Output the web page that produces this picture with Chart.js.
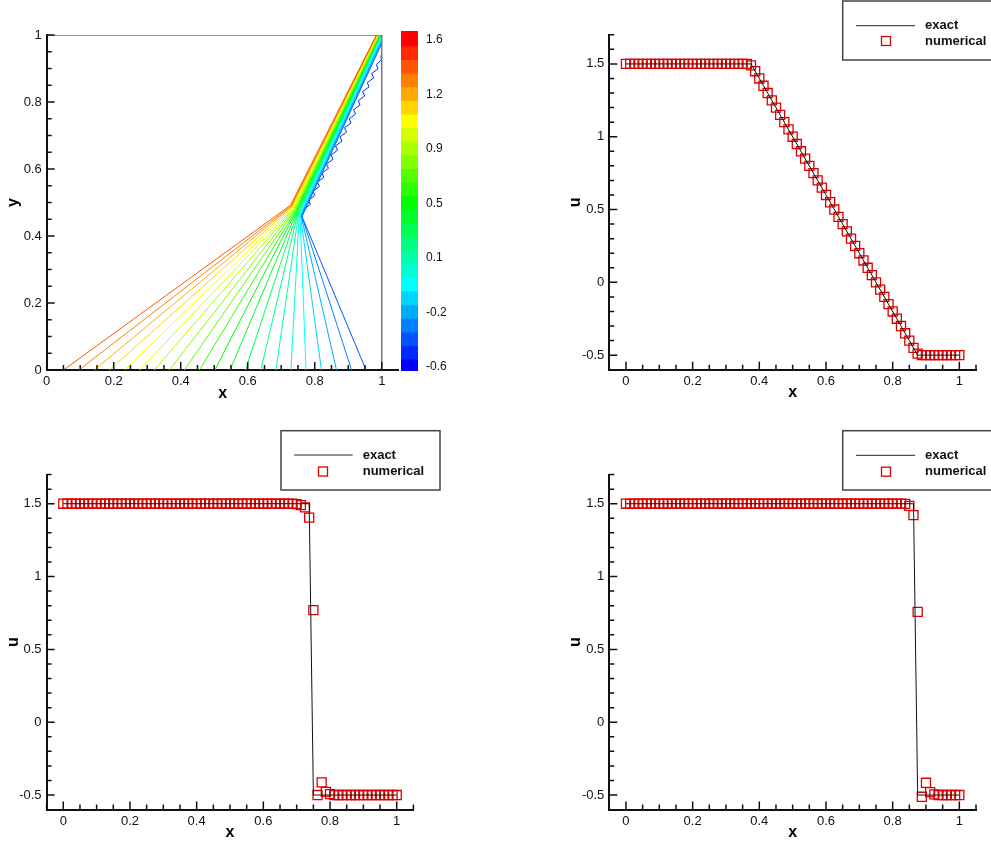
<!DOCTYPE html>
<html>
<head>
<meta charset="utf-8">
<script src="https://cdn.jsdelivr.net/npm/chart.js@4.4.0/dist/chart.umd.min.js"></script>
<style>
  html, body { margin: 0; padding: 0; background: #fff; overflow: hidden; width: 991px; height: 843px; }
  canvas { position: absolute; }
</style>
</head>
<body>
<canvas id="contour" width="400" height="410" style="left:0px;top:0px"></canvas>
<canvas id="colorbar" width="60" height="410" style="left:395px;top:0px"></canvas>
<canvas id="u1" width="431" height="410" style="left:560px;top:0px"></canvas>
<canvas id="u2" width="445" height="430" style="left:0px;top:420px"></canvas>
<canvas id="u3" width="431" height="430" style="left:560px;top:420px"></canvas>
<script>
// ---- データ ----
// 格子点（81点）
const gridX = [
  0, 0.0125, 0.025, 0.0375, 0.05, 0.0625, 0.075, 0.0875, 0.1, 0.1125,
  0.125, 0.1375, 0.15, 0.1625, 0.175, 0.1875, 0.2, 0.2125, 0.225, 0.2375,
  0.25, 0.2625, 0.275, 0.2875, 0.3, 0.3125, 0.325, 0.3375, 0.35, 0.3625,
  0.375, 0.3875, 0.4, 0.4125, 0.425, 0.4375, 0.45, 0.4625, 0.475, 0.4875,
  0.5, 0.5125, 0.525, 0.5375, 0.55, 0.5625, 0.575, 0.5875, 0.6, 0.6125,
  0.625, 0.6375, 0.65, 0.6625, 0.675, 0.6875, 0.7, 0.7125, 0.725, 0.7375,
  0.75, 0.7625, 0.775, 0.7875, 0.8, 0.8125, 0.825, 0.8375, 0.85, 0.8625,
  0.875, 0.8875, 0.9, 0.9125, 0.925, 0.9375, 0.95, 0.9625, 0.975, 0.9875,
  1
];

// 右上: 膨張波の途中
const exactX1 = [0, 0.375, 0.875, 1];
const exactU1 = [1.5, 1.5, -0.5, -0.5];
const numU1 = [
  1.5, 1.5, 1.5, 1.5, 1.5, 1.5, 1.5, 1.5, 1.5, 1.5,
  1.5, 1.5, 1.5, 1.5, 1.5, 1.5, 1.5, 1.5, 1.5, 1.5,
  1.5, 1.5, 1.5, 1.5, 1.5, 1.5, 1.5, 1.5, 1.5, 1.5,
  1.49, 1.45, 1.4, 1.35, 1.3, 1.25, 1.2, 1.15, 1.1, 1.05,
  1, 0.95, 0.9, 0.85, 0.8, 0.75, 0.7, 0.65, 0.6, 0.55,
  0.5, 0.45, 0.4, 0.35, 0.3, 0.25, 0.2, 0.15, 0.1, 0.05,
  0, -0.05, -0.1, -0.15, -0.2, -0.25, -0.3, -0.35, -0.4, -0.45,
  -0.49, -0.5, -0.5, -0.5, -0.5, -0.5, -0.5, -0.5, -0.5, -0.5,
  -0.5
];

// 左下: 衝撃波形成直後
const exactX2 = [0, 0.7375, 0.75, 1];
const exactU2 = [1.5, 1.5, -0.5, -0.5];
const numU2 = [
  1.5, 1.5, 1.5, 1.5, 1.5, 1.5, 1.5, 1.5, 1.5, 1.5,
  1.5, 1.5, 1.5, 1.5, 1.5, 1.5, 1.5, 1.5, 1.5, 1.5,
  1.5, 1.5, 1.5, 1.5, 1.5, 1.5, 1.5, 1.5, 1.5, 1.5,
  1.5, 1.5, 1.5, 1.5, 1.5, 1.5, 1.5, 1.5, 1.5, 1.5,
  1.5, 1.5, 1.5, 1.5, 1.5, 1.5, 1.5, 1.5, 1.5, 1.5,
  1.5, 1.5, 1.5, 1.5, 1.5, 1.5, 1.497, 1.49, 1.475, 1.405,
  0.77, -0.5, -0.413, -0.478, -0.494, -0.5, -0.5, -0.5, -0.5, -0.5,
  -0.5, -0.5, -0.5, -0.5, -0.5, -0.5, -0.5, -0.5, -0.5, -0.5,
  -0.5
];

// 右下: 衝撃波の移動後
const exactX3 = [0, 0.8625, 0.875, 1];
const exactU3 = [1.5, 1.5, -0.5, -0.5];
const numU3 = [
  1.5, 1.5, 1.5, 1.5, 1.5, 1.5, 1.5, 1.5, 1.5, 1.5,
  1.5, 1.5, 1.5, 1.5, 1.5, 1.5, 1.5, 1.5, 1.5, 1.5,
  1.5, 1.5, 1.5, 1.5, 1.5, 1.5, 1.5, 1.5, 1.5, 1.5,
  1.5, 1.5, 1.5, 1.5, 1.5, 1.5, 1.5, 1.5, 1.5, 1.5,
  1.5, 1.5, 1.5, 1.5, 1.5, 1.5, 1.5, 1.5, 1.5, 1.5,
  1.5, 1.5, 1.5, 1.5, 1.5, 1.5, 1.5, 1.5, 1.5, 1.5,
  1.5, 1.5, 1.5, 1.5, 1.5, 1.5, 1.5, 1.499, 1.485, 1.422,
  0.758, -0.512, -0.416, -0.48, -0.495, -0.5, -0.5, -0.5, -0.5, -0.5,
  -0.5
];

// 等高線レベルと色（下から上へ）
const levels = [
  -0.6, -0.508, -0.417, -0.325, -0.233, -0.142, -0.05, 0.042, 0.133, 0.225,
  0.317, 0.408, 0.5, 0.592, 0.683, 0.775, 0.867, 0.958, 1.05, 1.142,
  1.233, 1.325, 1.417, 1.508, 1.6
];
const levelColors = [
  'rgb(0,0,255)', 'rgb(0,43,255)', 'rgb(0,85,255)', 'rgb(0,128,255)', 'rgb(0,170,255)',
  'rgb(0,213,255)', 'rgb(0,255,255)', 'rgb(0,255,213)', 'rgb(0,255,170)', 'rgb(0,255,128)',
  'rgb(0,255,85)', 'rgb(0,255,43)', 'rgb(0,255,0)', 'rgb(43,255,0)', 'rgb(85,255,0)',
  'rgb(128,255,0)', 'rgb(170,255,0)', 'rgb(213,255,0)', 'rgb(255,255,0)', 'rgb(255,213,0)',
  'rgb(255,170,0)', 'rgb(255,128,0)', 'rgb(255,85,0)', 'rgb(255,43,0)', 'rgb(255,0,0)'
];
const cbarTicks = [-0.6, -0.2333, 0.1333, 0.5, 0.8667, 1.2333, 1.6];
const cbarMin = -0.629;
const cbarMax = 1.66;

// 特性曲線の扇（オレンジ→青）
const fanLevel = [22, 21, 20, 19, 18, 17, 16, 15, 14, 13, 12, 11, 10, 9, 8, 7, 6, 5, 4, 3, 2];
const footX = [0.05, 0.096, 0.142, 0.187, 0.232, 0.277, 0.321, 0.366, 0.411, 0.456,
               0.502, 0.547, 0.593, 0.639, 0.684, 0.729, 0.774, 0.82, 0.865, 0.91, 0.953];
const kneeX = [0.728, 0.73, 0.731, 0.733, 0.735, 0.737, 0.738, 0.74, 0.742, 0.744,
               0.745, 0.747, 0.749, 0.75, 0.752, 0.754, 0.756, 0.757, 0.759, 0.761, 0.762];
const kneeY = [0.492, 0.49, 0.489, 0.487, 0.485, 0.484, 0.482, 0.48, 0.479, 0.477,
               0.475, 0.473, 0.472, 0.47, 0.468, 0.467, 0.465, 0.463, 0.462, 0.46, 0.458];
const topX = [0.984, 0.985, 0.986, 0.987, 0.988, 0.989, 0.99, 0.991, 0.992, 0.993,
              0.994, 0.995, 0.996, 0.997, 0.998, 0.999, 1, 1, 1, 1, 1];
const topY = [1, 1, 1, 1, 1, 1, 1, 1, 1, 1,
              1, 1, 1, 1, 1, 1, 0.995, 0.99, 0.985, 0.98, 0.975];
// 衝撃波右側のアンダーシュート（レベル1）
const scallopX = [0.762, 0.763, 0.768, 0.787, 0.782, 0.8, 0.795, 0.814, 0.808, 0.827, 0.822,
                  0.841, 0.835, 0.854, 0.849, 0.868, 0.862, 0.881, 0.876, 0.895, 0.889,
                  0.908, 0.903, 0.922, 0.916, 0.935, 0.93, 0.949, 0.943, 0.962, 0.957,
                  0.976, 0.97, 0.989, 0.984, 1, 0.998];
const scallopY = [0.445, 0.47, 0.48, 0.494, 0.507, 0.521, 0.534, 0.548, 0.561, 0.575, 0.588,
                  0.602, 0.615, 0.629, 0.642, 0.656, 0.669, 0.683, 0.696, 0.71, 0.723,
                  0.737, 0.75, 0.764, 0.777, 0.791, 0.804, 0.818, 0.831, 0.845, 0.858,
                  0.872, 0.885, 0.899, 0.912, 0.926, 0.94];
const frameX = [0, 1, 1];
const frameY = [1, 1, 0];

// 目盛り
const majorXY = [0, 0.2, 0.4, 0.6, 0.8, 1];
const minorXY = [0.05, 0.1, 0.15, 0.25, 0.3, 0.35, 0.45, 0.5, 0.55, 0.65, 0.7, 0.75, 0.85, 0.9, 0.95];
const minorXu = [-0.05, 0.05, 0.1, 0.15, 0.25, 0.3, 0.35, 0.45, 0.5, 0.55, 0.65, 0.7, 0.75, 0.85, 0.9, 0.95, 1.05];
const majorU = [-0.5, 0, 0.5, 1, 1.5];
const minorU = [-0.4, -0.3, -0.2, -0.1, 0.1, 0.2, 0.3, 0.4, 0.6, 0.7, 0.8, 0.9, 1.1, 1.2, 1.3, 1.4, 1.6, 1.7];

// ---- 共通設定 ----
Chart.defaults.font.family = "'Liberation Sans', Arial, sans-serif";
Chart.defaults.color = '#111';
Chart.defaults.animation = false;

const pts = (xs, ys) => xs.map((x, i) => ({ x: x, y: ys[i] }));
const fmt = v => String(Math.round(v * 100) / 100);

// 内向きの目盛り線
function innerTicks(cfg) {
  return {
    id: 'innerTicks',
    afterDatasetsDraw(chart) {
      const { ctx, chartArea: a, scales } = chart;
      const sx = scales.x, sy = scales.y;
      ctx.save();
      ctx.strokeStyle = '#111';
      ctx.lineWidth = 1.5;
      ctx.beginPath();
      const vx = (vals, len) => vals.forEach(v => {
        const p = sx.getPixelForValue(v);
        ctx.moveTo(p, a.bottom);
        ctx.lineTo(p, a.bottom - len);
      });
      const vy = (vals, len) => vals.forEach(v => {
        const p = sy.getPixelForValue(v);
        ctx.moveTo(a.left, p);
        ctx.lineTo(a.left + len, p);
      });
      vx(cfg.xMajor, 8); vx(cfg.xMinor, 5);
      vy(cfg.yMajor, 8); vy(cfg.yMinor, 5);
      ctx.stroke();
      ctx.restore();
    }
  };
}

// 凡例ボックス
function boxLegend(cfg) {
  return {
    id: 'boxLegend',
    afterDraw(chart) {
      const ctx = chart.ctx;
      ctx.save();
      ctx.fillStyle = '#fff';
      ctx.fillRect(cfg.left, cfg.top, cfg.right - cfg.left, cfg.bottom - cfg.top);
      ctx.strokeStyle = '#444';
      ctx.lineWidth = 1.5;
      ctx.strokeRect(cfg.left, cfg.top, cfg.right - cfg.left, cfg.bottom - cfg.top);
      ctx.strokeStyle = '#222';
      ctx.lineWidth = 1;
      ctx.beginPath();
      ctx.moveTo(cfg.lineX[0], cfg.rowY[0]);
      ctx.lineTo(cfg.lineX[1], cfg.rowY[0]);
      ctx.stroke();
      ctx.strokeStyle = '#d80000';
      ctx.lineWidth = 1.3;
      ctx.strokeRect(cfg.squareX - 4.5, cfg.rowY[1] - 4.5, 9, 9);
      ctx.fillStyle = '#111';
      ctx.font = "bold 13px 'Liberation Sans', Arial, sans-serif";
      ctx.textBaseline = 'middle';
      ctx.fillText('exact', cfg.textX, cfg.rowY[0]);
      ctx.fillText('numerical', cfg.textX, cfg.rowY[1]);
      ctx.restore();
    }
  };
}

function xAxis(min, max, ticksVals) {
  return {
    type: 'linear', position: 'bottom', min: min, max: max,
    grid: { display: false, drawTicks: false },
    border: { display: true, color: '#111', width: 2 },
    ticks: { padding: 4, font: { size: 13 }, color: '#111', callback: fmt, autoSkip: false, maxRotation: 0 },
    afterBuildTicks: s => { s.ticks = ticksVals.map(v => ({ value: v })); },
    afterFit: s => { s.height = 40; },
    title: { display: true, text: 'x', color: '#000', font: { size: 16, weight: 'bold' }, padding: { top: 0, bottom: 7.2 } }
  };
}

function yAxis(min, max, ticksVals, title, width, titlePad) {
  return {
    type: 'linear', position: 'left', min: min, max: max,
    grid: { display: false, drawTicks: false },
    border: { display: true, color: '#111', width: 2 },
    ticks: { padding: 5, font: { size: 13 }, color: '#111', callback: fmt, autoSkip: false },
    afterBuildTicks: s => { s.ticks = ticksVals.map(v => ({ value: v })); },
    afterFit: s => { s.width = width; },
    title: { display: true, text: title, color: '#000', font: { size: 16, weight: 'bold' }, padding: { top: titlePad, bottom: 0 } }
  };
}

const baseOptions = {
  responsive: false,
  devicePixelRatio: 1,
  events: [],
  plugins: { legend: { display: false }, tooltip: { enabled: false } }
};

// ---- 左上: 等高線図 ----
const contourSets = [{
  data: pts(frameX, frameY), borderColor: '#777', borderWidth: 1.5, pointRadius: 0
}];
fanLevel.forEach((lv, j) => {
  contourSets.push({
    data: [{ x: footX[j], y: 0 }, { x: kneeX[j], y: kneeY[j] }, { x: topX[j], y: topY[j] }],
    borderColor: levelColors[lv], borderWidth: 1, pointRadius: 0
  });
});
contourSets.push({
  data: pts(scallopX, scallopY), borderColor: levelColors[1], borderWidth: 1, pointRadius: 0
});

new Chart(document.getElementById('contour'), {
  type: 'line',
  data: { datasets: contourSets },
  options: Object.assign({}, baseOptions, {
    layout: { padding: { left: 0, top: 35, right: 1.5, bottom: 0 } },
    elements: { line: { tension: 0, fill: false } },
    scales: {
      x: xAxis(0, 1.05, majorXY),
      y: yAxis(0, 1, majorXY, 'y', 46.7, 3.5)
    }
  }),
  plugins: [innerTicks({ xMajor: majorXY, xMinor: minorXY, yMajor: majorXY, yMinor: minorXY })]
});

// ---- カラーバー ----
const bandLo = levels.map((v, i) => i === 0 ? cbarMin : (levels[i - 1] + v) / 2);
const bandHi = levels.map((v, i) => i === levels.length - 1 ? cbarMax : (levels[i + 1] + v) / 2);

new Chart(document.getElementById('colorbar'), {
  type: 'bar',
  data: {
    labels: [''],
    datasets: levels.map((v, i) => ({
      data: [[bandLo[i], bandHi[i]]],
      backgroundColor: levelColors[i],
      borderWidth: 0,
      grouped: false,
      barPercentage: 1,
      categoryPercentage: 1
    }))
  },
  options: Object.assign({}, baseOptions, {
    layout: { padding: { left: 6, top: 31, right: 0, bottom: 39 } },
    scales: {
      x: { display: false },
      y: {
        type: 'linear', position: 'right', min: cbarMin, max: cbarMax,
        grid: { display: false, drawTicks: false },
        border: { display: false },
        ticks: { padding: 8, font: { size: 12 }, color: '#111', callback: v => v.toFixed(1), autoSkip: false },
        afterBuildTicks: s => { s.ticks = cbarTicks.map(v => ({ value: v })); },
        afterFit: s => { s.width = 37; }
      }
    }
  })
});

// ---- u(x) の比較図 ----
function uPanel(id, exactX, exactU, numU, pad, yWidth, titlePad, legend) {
  new Chart(document.getElementById(id), {
    type: 'line',
    data: {
      datasets: [
        {
          label: 'exact',
          data: pts(exactX, exactU),
          borderColor: '#111', borderWidth: 1, pointRadius: 0, tension: 0, fill: false
        },
        {
          label: 'numerical',
          data: pts(gridX, numU),
          showLine: false,
          pointStyle: 'rect', pointRadius: 6.4,
          pointBorderColor: '#d80000', pointBackgroundColor: 'rgba(0,0,0,0)', pointBorderWidth: 1.3
        }
      ]
    },
    options: Object.assign({}, baseOptions, {
      layout: { padding: pad },
      scales: {
        x: xAxis(-0.05, 1.05, majorXY),
        y: yAxis(-0.6, 1.7, majorU, 'u', yWidth, titlePad)
      }
    }),
    plugins: [innerTicks({ xMajor: majorXY, xMinor: minorXu, yMajor: majorU, yMinor: minorU }), boxLegend(legend)]
  });
}

uPanel('u1', exactX1, exactU1, numU1,
  { left: 0, top: 34.8, right: 15, bottom: 0.3 }, 49.3, 5.5,
  { left: 282.7, top: 1, right: 440, bottom: 60, lineX: [296, 355], rowY: [25.7, 41], squareX: 326, textX: 365 });

uPanel('u2', exactX2, exactU2, numU2,
  { left: 0, top: 54.6, right: 31.6, bottom: 0.4 }, 46.6, 3.8,
  { left: 281, top: 10.7, right: 440, bottom: 70, lineX: [294, 352.7], rowY: [35, 51.5], squareX: 323, textX: 362.7 });

uPanel('u3', exactX3, exactU3, numU3,
  { left: 0, top: 54.6, right: 15, bottom: 0.4 }, 49.3, 5.5,
  { left: 282.7, top: 10.7, right: 440, bottom: 70, lineX: [296, 355], rowY: [35.3, 51.7], squareX: 326, textX: 365 });
</script>
</body>
</html>
